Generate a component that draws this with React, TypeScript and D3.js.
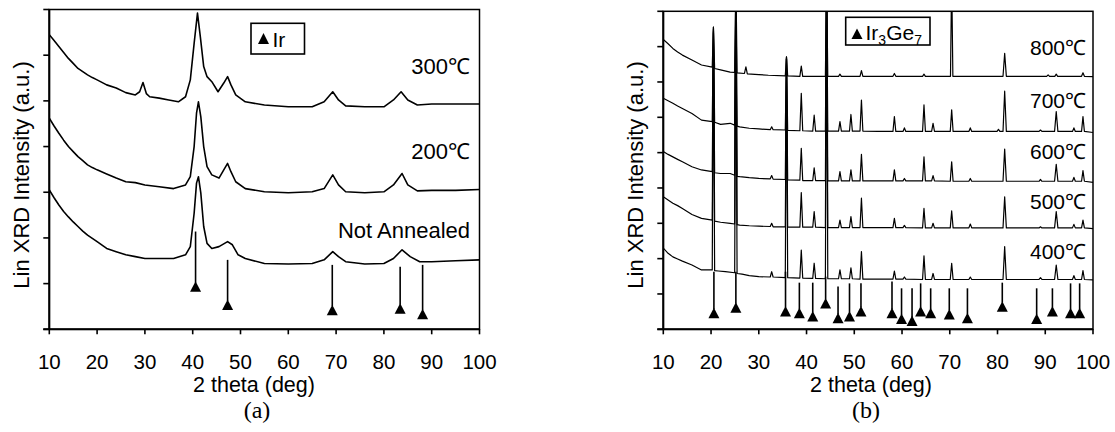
import React from 'react';
import * as d3 from 'd3';

type Pt = [number, number];

// ---------- shared ----------
const xTicks = [10, 20, 30, 40, 50, 60, 70, 80, 90, 100];
const xTitle = '2 theta (deg)';
const yTitle = 'Lin XRD Intensity (a.u.)';

// ---------- panel (a): Ir ----------
const labelsA = ['Not Annealed', '200℃', '300℃'];
const curveNotAnnealed: Pt[] = [
  [10, 305], [11, 288], [12, 272], [13, 258], [14, 246], [15, 235], [16, 225], [17, 215], [18, 206], [19, 199],
  [20, 192], [22, 177], [24, 170], [26, 163], [28, 159], [30, 155], [33, 155], [36, 155], [38.5, 163], [39.5, 181],
  [40.3, 254], [40.8, 320], [41.2, 334], [41.7, 298], [42.3, 225], [43, 188], [44, 177], [45.5, 181], [47.3, 192],
  [48.3, 185], [49.5, 163], [51, 155], [55, 144], [60, 143], [65, 144], [67.5, 152], [69.3, 170], [70.5, 159],
  [72, 148], [76, 143], [80, 144], [82, 155], [83.8, 174], [85.5, 159], [87.5, 148], [90, 148], [95, 150], [100, 152],
];
const curve200: Pt[] = [
  [10, 462], [11, 445], [12, 429], [13, 414], [14, 400], [15, 389], [16, 378], [17, 369], [18, 360], [19, 354],
  [20, 349], [22, 340], [24, 331], [26, 323], [28, 321], [30, 316], [33, 312], [36, 308], [38.5, 316], [39.5, 334],
  [40.3, 400], [40.8, 473], [41.2, 498], [41.7, 465], [42.3, 400], [43, 356], [44, 338], [45.5, 331], [46.5, 349],
  [47.3, 363], [48, 345], [49, 323], [51, 308], [55, 301], [60, 299], [65, 301], [67.5, 308], [69.3, 338],
  [70.5, 316], [72, 301], [76, 299], [80, 301], [82, 316], [83.8, 341], [85, 316], [87, 303], [90, 304], [95, 304], [100, 306],
];
const curve300: Pt[] = [
  [10, 645], [11, 632], [12, 619], [13, 606], [14, 593], [15, 582], [16, 571], [17, 564], [18, 557], [19, 551],
  [20, 546], [22, 535], [24, 528], [26, 518], [28, 513], [28.9, 520], [29.6, 540], [30.3, 516], [31, 509], [33, 506],
  [35, 502], [37, 498], [38.5, 509], [39.5, 546], [40.3, 626], [41, 692], [41.6, 640], [42.3, 575], [43, 553],
  [44, 542], [45.3, 520], [46.5, 539], [47.3, 553], [48, 535], [49, 513], [51, 498], [55, 491], [60, 487], [65, 487],
  [67.5, 498], [69.3, 520], [70.5, 502], [72, 489], [76, 487], [80, 487], [82, 502], [83.6, 520], [85, 502],
  [87, 491], [90, 493], [95, 493], [100, 493],
];
// reference sticks: position, top of stick, bottom (triangle base)
const sticksA: [number, number, number][] = [
  [40.6, 214, 82], [47.3, 152, 42], [69.2, 141, 31], [83.4, 137, 34], [88.1, 141, 22],
];

// ---------- panel (b): Ir3Ge7 ----------
const labelsB = ['400℃', '500℃', '600℃', '700℃', '800℃'];
const curve400: Pt[] = [
  [10, 230], [11, 215], [12, 205], [13, 199], [14, 193], [16, 182], [18, 168], [20.25, 168], [20.5, 855], [20.75, 166],
  [21.5, 165], [23, 163], [24.95, 160], [25.2, 1000], [25.45, 158], [26.5, 156], [28, 152], [30, 149], [32.4, 148],
  [32.7, 163], [33, 148], [35.55, 146], [35.8, 771], [36.05, 146], [38.6, 145], [38.9, 224], [39.2, 145], [41.3, 144],
  [41.6, 187], [41.9, 144], [43.95, 143], [44.2, 1000], [44.45, 143], [46.7, 143], [47, 168], [47.3, 143], [49, 143],
  [49.3, 174], [49.6, 143], [51.2, 142], [51.5, 220], [51.8, 142], [55, 142], [58.1, 142], [58.4, 165], [58.7, 142],
  [60.2, 142], [60.5, 148], [60.8, 142], [64.3, 141], [64.6, 208], [64.9, 141], [66.2, 141], [66.5, 158], [66.8, 141],
  [70.1, 141], [70.4, 187], [70.7, 141], [74, 141], [74.3, 148], [74.6, 141], [81.15, 141], [81.5, 234], [81.85, 141],
  [88.7, 141], [89, 146], [89.3, 141], [91.95, 141], [92.3, 182], [92.65, 141], [95.7, 141], [96, 152], [96.3, 141],
  [97.6, 141], [97.9, 166], [98.2, 141], [100, 140],
];
const curve500: Pt[] = [
  [10, 375], [11, 366], [12, 357], [13, 350], [14, 342], [16, 325], [18, 314], [20.25, 309], [20.5, 840], [20.75, 306],
  [22, 303], [24, 300], [24.95, 298], [25.2, 1000], [25.45, 296], [26, 295], [28, 293], [30, 292], [32.4, 291],
  [32.7, 300], [33, 290], [35.55, 290], [35.8, 765], [36.05, 289], [38.6, 289], [38.9, 387], [39.2, 289], [41.3, 289],
  [41.6, 333], [41.9, 289], [43.95, 288], [44.2, 1000], [44.45, 288], [46.7, 288], [47, 309], [47.3, 288], [49, 288],
  [49.3, 319], [49.6, 288], [51.2, 288], [51.5, 371], [51.8, 288], [55, 288], [58.1, 288], [58.4, 314], [58.7, 288],
  [60.2, 288], [60.5, 294], [60.8, 288], [64.3, 287], [64.6, 342], [64.9, 287], [66.2, 287], [66.5, 300], [66.8, 287],
  [70.1, 287], [70.4, 335], [70.7, 287], [74, 287], [74.3, 298], [74.6, 287], [81.15, 287], [81.5, 375], [81.85, 287],
  [88.7, 287], [89, 290], [89.3, 287], [91.95, 287], [92.3, 333], [92.65, 287], [95.7, 287], [96, 297], [96.3, 287],
  [97.6, 287], [97.9, 309], [98.2, 287], [100, 285],
];
const curve600: Pt[] = [
  [10, 503], [11, 495], [12, 488], [13, 481], [14, 474], [16, 460], [18, 451], [20.25, 446], [20.5, 845], [20.75, 443],
  [22, 441], [24, 441], [24.95, 436], [25.2, 1000], [25.45, 433], [26, 432], [28, 429], [30, 427], [32.4, 426],
  [32.7, 435], [33, 425], [35.55, 424], [35.8, 765], [36.05, 423], [38.6, 422], [38.9, 512], [39.2, 421], [41.3, 421],
  [41.6, 457], [41.9, 421], [43.95, 421], [44.2, 1000], [44.45, 420], [46.7, 420], [47, 446], [47.3, 420], [49, 420],
  [49.3, 451], [49.6, 420], [51.2, 420], [51.5, 495], [51.8, 420], [55, 420], [58.1, 420], [58.4, 451], [58.7, 420],
  [60.2, 420], [60.5, 427], [60.8, 420], [64.3, 420], [64.6, 488], [64.9, 420], [66.2, 420], [66.5, 435], [66.8, 420],
  [70.1, 419], [70.4, 474], [70.7, 419], [74, 419], [74.3, 427], [74.6, 419], [81.15, 419], [81.5, 510], [81.85, 419],
  [88.7, 419], [89, 424], [89.3, 419], [91.95, 419], [92.3, 467], [92.65, 419], [95.7, 419], [96, 430], [96.3, 419],
  [97.6, 419], [97.9, 449], [98.2, 419], [100, 416],
];
const curve700: Pt[] = [
  [10, 654], [11, 647], [12, 640], [13, 632], [14, 625], [16, 611], [18, 592], [20.25, 588], [20.5, 850], [20.75, 586],
  [22, 580], [24, 583], [24.95, 578], [25.2, 1000], [25.45, 575], [26, 573], [28, 569], [30, 567], [32.4, 565],
  [32.7, 573], [33, 565], [35.55, 564], [35.8, 768], [36.05, 563], [38.6, 562], [38.9, 668], [39.2, 562], [41.3, 561],
  [41.6, 606], [41.9, 561], [43.95, 561], [44.2, 1000], [44.45, 561], [46.7, 561], [47, 588], [47.3, 561], [49, 561],
  [49.3, 608], [49.6, 561], [51.2, 561], [51.5, 649], [51.8, 561], [55, 560], [58.1, 560], [58.4, 602], [58.7, 560],
  [60.2, 560], [60.5, 570], [60.8, 560], [64.3, 560], [64.6, 635], [64.9, 560], [66.2, 560], [66.5, 583], [66.8, 560],
  [70.1, 560], [70.4, 621], [70.7, 560], [74, 560], [74.3, 570], [74.6, 560], [79.9, 560], [80.2, 566], [80.5, 560],
  [81.15, 560], [81.5, 674], [81.85, 560], [88.7, 560], [89, 564], [89.3, 560], [91.95, 560], [92.3, 616], [92.65, 560],
  [95.7, 560], [96, 570], [96.3, 560], [97.6, 560], [97.9, 602], [98.2, 560], [100, 557],
];
const curve800: Pt[] = [
  [10, 820], [11, 808], [12, 795], [13, 785], [14, 776], [16, 762], [18, 748], [20.25, 742], [20.5, 855], [20.75, 738],
  [22, 734], [24, 728], [24.95, 727], [25.2, 1000], [25.45, 726], [27, 724], [27.3, 743], [27.6, 723], [30, 721],
  [32, 719], [35.55, 717], [35.8, 771], [36.05, 717], [38.6, 716], [38.9, 745], [39.2, 716], [43.95, 716], [44.2, 1000],
  [44.45, 716], [46.7, 716], [47, 722], [47.3, 716], [51.2, 716], [51.5, 732], [51.8, 716], [58.1, 716], [58.4, 724],
  [58.7, 716], [64.3, 716], [64.6, 722], [64.9, 716], [70.15, 716], [70.4, 1000], [70.65, 716], [81.15, 716], [81.5, 781],
  [81.85, 716], [90.3, 716], [90.6, 720], [90.9, 716], [92, 716], [92.3, 722], [92.6, 716], [97.6, 716], [97.9, 726],
  [98.2, 716], [100, 715],
];
const sticksB: [number, number, number][] = [
  [20.6, 163, 31], [25.2, 163, 47], [35.6, 163, 36], [38.5, 132, 31], [41.3, 132, 22], [44.0, 149, 59],
  [46.6, 121, 17], [49.0, 130, 22], [51.4, 130, 36], [57.9, 135, 31], [59.9, 116, 15], [62.1, 116, 9],
  [63.9, 130, 36], [66.0, 116, 31], [69.9, 116, 28], [73.7, 116, 17], [81.0, 132, 50], [88.2, 116, 15],
  [91.5, 116, 36], [95.3, 130, 31], [97.2, 130, 31],
];

const SANS = '"Liberation Sans", Arial, Helvetica, sans-serif';

type PanelProps = {
  id: string;
  left: number; right: number; top: number; bottom: number;
  yMax: number;
  curves: Pt[][];
  strokeW: number;
  labels: string[];
  labelX: number;
  labelY: number[];
  labelSize: number;
  sticks: [number, number, number][];
  yTitleX: number;
  xTitleX: number;
  tag: string;
  tagX: number;
  legend: React.ReactNode;
};

function Panel(p: PanelProps) {
  const x = d3.scaleLinear().domain([10, 100]).range([p.left, p.right]);
  const y = d3.scaleLinear().domain([0, p.yMax]).range([p.bottom, p.top]);
  const line = d3.line<Pt>().x(d => x(d[0])).y(d => y(d[1]));
  const yTicks = d3.range(0, p.yMax + 1, 100);
  return (
    <g>
      <defs>
        <clipPath id={p.id}>
          <rect x={p.left} y={p.top} width={p.right - p.left} height={p.bottom - p.top} />
        </clipPath>
      </defs>
      <g clipPath={`url(#${p.id})`}>
        {p.curves.map((c, i) => (
          <path key={i} d={line(c) || ''} fill="none" stroke="#000" strokeWidth={p.strokeW} strokeLinejoin="round" />
        ))}
      </g>
      {p.sticks.map((s, i) => {
        const cx = x(s[0]);
        const yb = y(s[2]);
        return (
          <g key={i}>
            <line x1={cx} x2={cx} y1={y(s[1])} y2={yb - 9} stroke="#000" strokeWidth={1.6} />
            <path d={`M${cx - 5.5},${yb}L${cx + 5.5},${yb}L${cx},${yb - 10.5}Z`} fill="#000" />
          </g>
        );
      })}
      {/* frame */}
      <rect x={p.left} y={p.top} width={p.right - p.left} height={p.bottom - p.top} fill="none" stroke="#000" strokeWidth={1.5} />
      <line x1={p.left} x2={p.left} y1={p.top} y2={p.bottom} stroke="#000" strokeWidth={2} />
      <line x1={p.left - 6} x2={p.right} y1={p.bottom} y2={p.bottom} stroke="#000" strokeWidth={2} />
      {yTicks.map(t => (
        <line key={t} x1={p.left - 6} x2={p.left} y1={y(t)} y2={y(t)} stroke="#000" strokeWidth={1.6} />
      ))}
      {xTicks.map(t => (
        <g key={t}>
          <line x1={x(t)} x2={x(t)} y1={p.bottom} y2={p.bottom + 5} stroke="#000" strokeWidth={1.6} />
          <text x={x(t)} y={368.5} textAnchor="middle" fontFamily={SANS} fontSize={20.5}>{t}</text>
        </g>
      ))}
      <text x={p.xTitleX} y={392} textAnchor="middle" fontFamily={SANS} fontSize={21.5}>{xTitle}</text>
      <text transform={`translate(${p.yTitleX},175) rotate(-90)`} textAnchor="middle" fontFamily={SANS} fontSize={22}>{yTitle}</text>
      <text x={p.tagX} y={418} textAnchor="middle" fontFamily='"Liberation Serif", "Times New Roman", serif' fontSize={24}>{p.tag}</text>
      {p.labels.map((l, i) => (
        <text key={l} x={p.labelX} y={p.labelY[i]} textAnchor="end" fontFamily={SANS} fontSize={p.labelSize}>{l}</text>
      ))}
      {p.legend}
    </g>
  );
}

export default function App() {
  const legendA = (
    <g>
      <rect x={251} y={23.3} width={53.5} height={30.7} fill="#fff" stroke="#000" strokeWidth={1.6} />
      <path d="M258,44L269,44L263.5,33Z" fill="#000" />
      <text x={272.5} y={46.7} fontFamily={SANS} fontSize={21}>Ir</text>
    </g>
  );
  const legendB = (
    <g>
      <rect x={845.7} y={17.3} width={84.3} height={27.7} fill="#fff" stroke="#000" strokeWidth={1.6} />
      <path d="M851.5,39L862.5,39L857,28.5Z" fill="#000" />
      <text x={865.5} y={40} fontFamily={SANS} fontSize={21}>
        Ir<tspan fontSize={14} dy={5}>3</tspan><tspan dy={-5}>Ge</tspan><tspan fontSize={14} dy={5}>7</tspan>
      </text>
    </g>
  );
  return (
    <svg width={1115} height={432} style={{ position: 'absolute', left: 0, top: 0, background: '#fff' }}>
      <rect x={0} y={0} width={1115} height={432} fill="#fff" />
      <Panel
        id="clipA" left={49.3} right={479.5} top={9.5} bottom={329.3} yMax={700}
        curves={[curveNotAnnealed, curve200, curve300]} strokeW={1.6}
        labels={labelsA} labelX={470} labelY={[237.5, 159, 74]} labelSize={22}
        sticks={sticksA} yTitleX={29} xTitleX={254} tag="(a)" tagX={257} legend={legendA}
      />
      <Panel
        id="clipB" left={663.3} right={1093} top={11.3} bottom={329.3} yMax={900}
        curves={[curve400, curve500, curve600, curve700, curve800]} strokeW={1.2}
        labels={labelsB} labelX={1086} labelY={[259, 209, 159, 108, 55]} labelSize={21}
        sticks={sticksB} yTitleX={643} xTitleX={871} tag="(b)" tagX={866} legend={legendB}
      />
    </svg>
  );
}
